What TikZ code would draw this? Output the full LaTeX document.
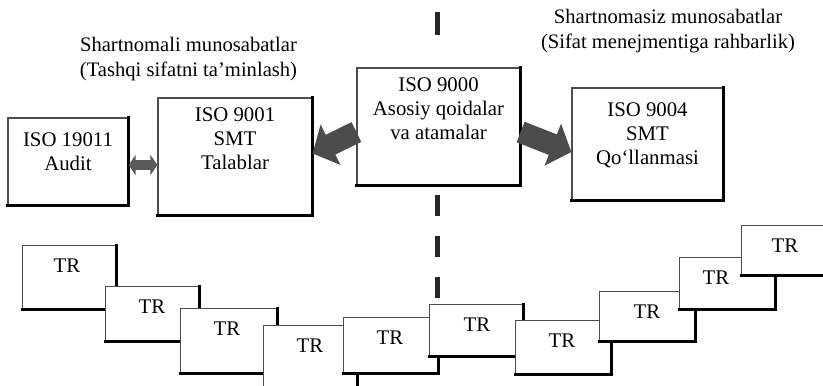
\documentclass[tikz,border=0pt]{standalone}
\usepackage{fontspec}
\setmainfont{Liberation Serif}
\usetikzlibrary{arrows.meta,positioning}

\tikzset{
  heavyline/.style={line width=1.3pt, line cap=rect, draw=black},
  isobox/.style={draw=black!70, line width=0.6pt, fill=white, inner sep=0pt,
    append after command={(\tikzlastnode.north east) edge[heavyline] (\tikzlastnode.south east)
      (\tikzlastnode.south east) edge[heavyline] (\tikzlastnode.south west)}},
  trbox/.style={isobox, anchor=north west},
  boxtext/.style={align=center, inner sep=0pt, font=\fontsize{10.4}{12}\selectfont},
  headtext/.style={align=center, inner sep=0pt, font=\fontsize{10.3}{12.5}\selectfont},
  fatarrow/.style={draw=black!70, line width=11pt, -{Triangle[width=22pt,length=10pt]}},
  twoway/.style={draw=black!65, line width=5pt,
    {Triangle[width=10pt,length=3.5pt]}-{Triangle[width=10pt,length=3.5pt]}},
  divider/.style={draw=black!85, line width=2.5pt}
}

\begin{document}
\begin{tikzpicture}[x=0.5pt,y=-0.5pt]
\clip (0,0) rectangle (823,385);

% dividing line
\coordinate (divtop) at (437,12);
\coordinate (divtopend) at (437,35);
\coordinate (divlow) at (437,195);
\coordinate (divlowend) at (437,300);
\draw[divider] (divtop) -- (divtopend);
\draw[divider, dash pattern=on 10.5pt off 10pt] (divlow) -- (divlowend);

% headings
\node[headtext] (headleft) at (188.5,59.5) {Shartnomali munosabatlar\\(Tashqi sifatni ta’minlash)};
\node[headtext] (headright) at (668,31) {Shartnomasiz munosabatlar\\(Sifat menejmentiga rahbarlik)};

% ISO boxes
\node[isobox, minimum width=60pt, minimum height=43.5pt] (iso19011) at (68,161.5) {};
\node[isobox, minimum width=77pt, minimum height=58.5pt] (iso9001) at (235,156.5) {};
\node[isobox, minimum width=81.5pt, minimum height=58.5pt] (iso9000) at (438.5,126.5) {};
\node[isobox, minimum width=75.5pt, minimum height=56pt] (iso9004) at (647.5,144) {};
\node[boxtext, below=7.5pt of iso19011.north] (iso19011txt) {ISO 19011\\Audit};
\node[boxtext, below=5pt of iso9001.north] (iso9001txt) {ISO 9001\\SMT\\Talablar};
\node[boxtext, below=5pt of iso9000.north] (iso9000txt) {ISO 9000\\Asosiy qoidalar\\va atamalar};
\node[boxtext, below=7.5pt of iso9004.north] (iso9004txt) {ISO 9004\\SMT\\Qo‘llanmasi};

\draw[fatarrow] ([yshift=-2.75pt]iso9000.west) -- ([yshift=1.5pt]iso9001.east);
\draw[fatarrow] ([yshift=-2.75pt]iso9000.east) -- ([yshift=-4pt]iso9004.west);
\draw[twoway] ([yshift=-1.75pt]iso19011.east) -- ([yshift=-4.25pt]iso9001.west);

% TR steps: number/left/top/right/bottom/text x
\foreach \n/\xa/\ya/\xb/\yb/\tx in {1/22/245/115/308/67, 2/105/286/198/340/152,
  3/180/308/276/372/227, 4/263/325/356/395/310, 5/343/317/437/372/390,
  6/429/304/522/355/477, 7/515/320/610/373/562, 8/599/291/694/340/647,
  9/679/257/774/308/716, 10/741/225/835/274/785}
{
\node[trbox, minimum width={(\xb-\xa)*0.5pt}, minimum height={(\yb-\ya)*0.5pt}] (tr\n) at (\xa,\ya) {};
\node[boxtext] (trtxt\n) at (\tx,{\ya+21}) {TR};
}
\end{tikzpicture}
\end{document}
